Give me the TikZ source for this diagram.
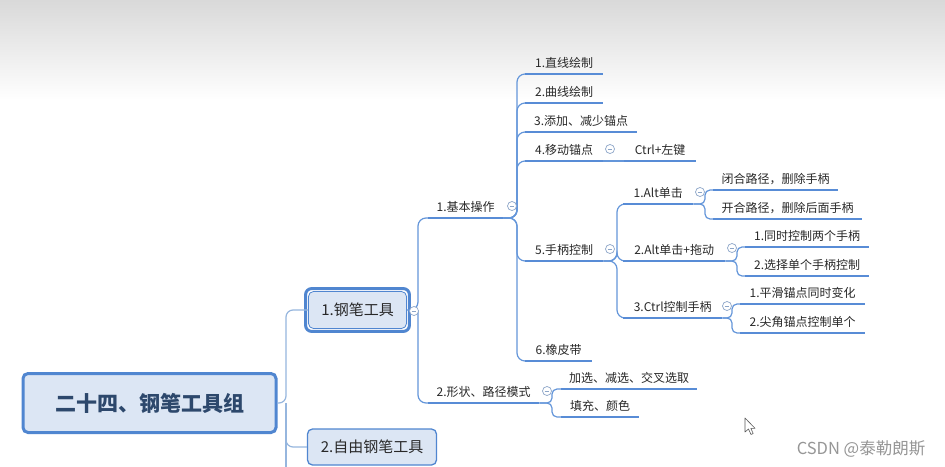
\documentclass[tikz,border=0pt]{standalone}
\usepackage{fontspec}
\setmainfont{Noto Sans CJK SC}
\definecolor{ulblue}{RGB}{88,140,214}
\definecolor{lnblue}{RGB}{100,150,218}
\definecolor{topblue}{RGB}{150,182,222}
\definecolor{boxfill}{RGB}{220,230,244}
\definecolor{boxline}{RGB}{80,134,208}
\definecolor{txt}{RGB}{40,40,40}
\definecolor{roottxt}{RGB}{45,72,108}
\definecolor{circ}{RGB}{140,165,200}
\definecolor{wm}{RGB}{150,150,150}
\begin{document}
\begin{tikzpicture}[x=1pt,y=-1pt,
  leaf/.style={inner xsep=0pt, inner ysep=4.5pt, text height=9pt, text depth=2pt,
    font=\fontsize{12}{14}\selectfont, text=txt, anchor=south west},
  ul/.style={draw=ulblue, line width=2.8pt},
  conn/.style={draw=lnblue, line width=1.2pt, rounded corners=8pt},
  topconn/.style={draw=topblue, line width=1.2pt, rounded corners=7pt},
  fold/.style={circle, draw=circ, fill=white, line width=0.7pt, minimum size=9pt, inner sep=0pt,
    path picture={\draw[circ, line width=0.7pt] ([xshift=-2.3pt]path picture bounding box.center) -- ([xshift=2.3pt]path picture bounding box.center);}},
  box/.style={rounded corners=5pt, fill=boxfill, draw=boxline, text=txt, font=\fontsize{15}{18}\selectfont, inner sep=0pt}
]
\useasboundingbox (0,0) rectangle (945,466);
\fill[white] (0,0) rectangle (945,466);
\shade[top color=black!15, bottom color=white] (0,0) rectangle (945,100);

% main boxes
\node[box, line width=3pt, minimum width=253pt, minimum height=59pt,
  font=\bfseries\fontsize{21}{24}\selectfont, text=roottxt] (root) at (149.5,403) {二十四、钢笔工具组};
\node[box, line width=0.8pt, minimum width=98pt, minimum height=37pt] (pen) at (357.5,310) {1.钢笔工具};
\draw[boxline, line width=3pt, rounded corners=6pt]
  ([xshift=-2.5pt,yshift=2.5pt]pen.north west) rectangle ([xshift=2.5pt,yshift=-2.5pt]pen.south east);
\node[box, line width=1.3pt, minimum width=129pt, minimum height=36pt] (free) at (372,447) {2.自由钢笔工具};

% level 2
\node[leaf, minimum width=75pt] (b1) at (428,218) {1.基本操作};
\node[leaf, minimum width=111pt] (b2) at (428,403) {2.形状、路径模式};

% level 3 (under 1.基本操作)
\node[leaf, minimum width=78pt] (a1) at (525,74) {1.直线绘制};
\node[leaf, minimum width=78pt] (a2) at (525,103) {2.曲线绘制};
\node[leaf, minimum width=112pt] (a3) at (525,132) {3.添加、减少锚点};
\node[leaf, minimum width=78pt] (a4) at (525,161) {4.移动锚点};
\node[leaf, minimum width=72pt] (ctrl) at (624,161) {Ctrl+左键};
\node[leaf, minimum width=78pt] (a5) at (525,261) {5.手柄控制};
\node[leaf, minimum width=67pt] (a6) at (525,361) {6.橡皮带};

% under 5.手柄控制
\node[leaf, minimum width=70pt] (h1) at (623,204) {1.Alt单击};
\node[leaf, minimum width=102pt] (h2) at (623,261) {2.Alt单击+拖动};
\node[leaf, minimum width=99pt] (h3) at (623,318) {3.Ctrl控制手柄};

\node[leaf, minimum width=125pt] (k1) at (713,190) {闭合路径，删除手柄};
\node[leaf, minimum width=149pt] (k2) at (713,219) {开合路径，删除后面手柄};
\node[leaf, minimum width=124pt] (m1) at (745,247) {1.同时控制两个手柄};
\node[leaf, minimum width=124pt] (m2) at (745,276) {2.选择单个手柄控制};
\node[leaf, minimum width=125pt] (p1) at (740,304) {1.平滑锚点同时变化};
\node[leaf, minimum width=125pt] (p2) at (740,333) {2.尖角锚点控制单个};

% under 2.形状、路径模式
\node[leaf, minimum width=136pt] (s1) at (561,389) {加选、减选、交叉选取};
\node[leaf, minimum width=78pt] (s2) at (561,417) {填充、颜色};

% junction coordinates
\coordinate (rj) at (286,403);
\coordinate (rbot) at (286,470);
\coordinate (pj) at (418,310);
\coordinate (bj) at (517,218);
\coordinate (hj) at (617,261);
\coordinate (kj) at (705,204);
\coordinate (mj) at (737,261);
\coordinate (qj) at (732,318);
\coordinate (sj) at (552,403);

% connectors
\draw[topconn] (root.east) -- (rj) |- (pen.west);
\draw[topconn] (rj) |- (free.west);
\draw[topconn] (rj) -- (rbot);

\draw[conn] (pen.east) -- (pj) |- (b1.south west);
\draw[conn] (pj) |- (b2.south west);

\foreach \c in {a1,a2,a3,a4,a5,a6} {
  \draw[conn] (b1.south east) -- (bj) |- (\c.south west);
}
\draw[conn] (a4.south east) -- (ctrl.south west);
\foreach \c in {h1,h2,h3} {
  \draw[conn] (a5.south east) -- (hj) |- (\c.south west);
}
\foreach \c in {k1,k2} {
  \draw[conn, rounded corners=5pt] (h1.south east) -- (kj) |- (\c.south west);
}
\foreach \c in {m1,m2} {
  \draw[conn, rounded corners=5pt] (h2.south east) -- (mj) |- (\c.south west);
}
\foreach \c in {p1,p2} {
  \draw[conn, rounded corners=5pt] (h3.south east) -- (qj) |- (\c.south west);
}
\foreach \c in {s1,s2} {
  \draw[conn, rounded corners=5pt] (b2.south east) -- (sj) |- (\c.south west);
}

% underlines
\foreach \n in {b1,b2,a1,a2,a3,a4,ctrl,a5,a6,h1,h2,h3,k1,k2,m1,m2,p1,p2,s1,s2} {
  \draw[ul] (\n.south west) -- (\n.south east);
}

% fold markers
\node[fold] (f0) at (414,311) {};
\node[fold] (f1) at (512,206) {};
\node[fold] (f2) at (610,149) {};
\node[fold] (f3) at (610,249) {};
\node[fold] (f4) at (700,192) {};
\node[fold] (f5) at (732,248) {};
\node[fold] (f6) at (727,306) {};
\node[fold] (f7) at (547,391) {};

% mouse cursor
\draw[fill=white, draw=black!65, line width=0.6pt, line join=round]
  (745,418) -- (745,432) -- (748.5,429) -- (751,434.5) -- (753.2,433.5) -- (750.8,428.3) -- (755,428.3) -- cycle;

% watermark
\node[text=wm, font=\fontsize{16.5}{18}\selectfont, inner sep=0pt] (wmark) at (861,449) {CSDN @泰勒朗斯};
\end{tikzpicture}
\end{document}
